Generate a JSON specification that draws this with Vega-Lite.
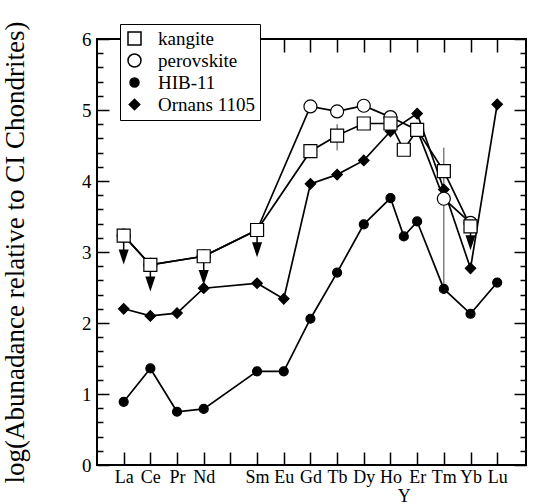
{
  "$schema": "https://vega.github.io/schema/vega-lite/v6.json",
  "width": 429,
  "height": 426,
  "autosize": {"type": "none"},
  "padding": {"left": 97, "top": 39, "right": 7, "bottom": 39},
  "background": "white",
  "config": {
    "view": {"stroke": "black", "strokeWidth": 2},
    "font": "Liberation Serif",
    "axis": {
      "labelFont": "Liberation Serif",
      "titleFont": "Liberation Serif",
      "labelColor": "black",
      "titleColor": "black",
      "ticks": false,
      "domain": false,
      "grid": false,
      "gridColor": "black",
      "gridOpacity": 1,
      "gridWidth": 1.5,
      "labelFlush": false,
      "labelOverlap": false
    },
    "legend": {
      "orient": "none",
      "legendX": 23,
      "legendY": -15,
      "fillColor": "white",
      "strokeColor": "black",
      "padding": 5,
      "labelFont": "Liberation Serif",
      "labelFontSize": 19,
      "labelColor": "black",
      "rowPadding": 2,
      "labelOffset": 14
    }
  },
  "datasets": {
    "ree": [
      {"series": "HIB-11", "el": "La", "order": 1, "v": 0.89},
      {"series": "HIB-11", "el": "Ce", "order": 2, "v": 1.36},
      {"series": "HIB-11", "el": "Pr", "order": 3, "v": 0.75},
      {"series": "HIB-11", "el": "Nd", "order": 4, "v": 0.79},
      {"series": "HIB-11", "el": "Sm", "order": 6, "v": 1.32},
      {"series": "HIB-11", "el": "Eu", "order": 7, "v": 1.32},
      {"series": "HIB-11", "el": "Gd", "order": 8, "v": 2.06},
      {"series": "HIB-11", "el": "Tb", "order": 9, "v": 2.71},
      {"series": "HIB-11", "el": "Dy", "order": 10, "v": 3.39},
      {"series": "HIB-11", "el": "Ho", "order": 11, "v": 3.76},
      {"series": "HIB-11", "el": "Y", "order": 11.5, "v": 3.22},
      {"series": "HIB-11", "el": "Er", "order": 12, "v": 3.43},
      {"series": "HIB-11", "el": "Tm", "order": 13, "v": 2.48},
      {"series": "HIB-11", "el": "Yb", "order": 14, "v": 2.13},
      {"series": "HIB-11", "el": "Lu", "order": 15, "v": 2.57},
      {"series": "Ornans 1105", "el": "La", "order": 1, "v": 2.20},
      {"series": "Ornans 1105", "el": "Ce", "order": 2, "v": 2.10},
      {"series": "Ornans 1105", "el": "Pr", "order": 3, "v": 2.14},
      {"series": "Ornans 1105", "el": "Nd", "order": 4, "v": 2.49},
      {"series": "Ornans 1105", "el": "Sm", "order": 6, "v": 2.56},
      {"series": "Ornans 1105", "el": "Eu", "order": 7, "v": 2.34},
      {"series": "Ornans 1105", "el": "Gd", "order": 8, "v": 3.96},
      {"series": "Ornans 1105", "el": "Tb", "order": 9, "v": 4.09},
      {"series": "Ornans 1105", "el": "Dy", "order": 10, "v": 4.29},
      {"series": "Ornans 1105", "el": "Ho", "order": 11, "v": 4.70},
      {"series": "Ornans 1105", "el": "Er", "order": 12, "v": 4.95},
      {"series": "Ornans 1105", "el": "Tm", "order": 13, "v": 3.88},
      {"series": "Ornans 1105", "el": "Yb", "order": 14, "v": 2.77},
      {"series": "Ornans 1105", "el": "Lu", "order": 15, "v": 5.08},
      {"series": "perovskite", "el": "La", "order": 1, "v": 3.23},
      {"series": "perovskite", "el": "Ce", "order": 2, "v": 2.82},
      {"series": "perovskite", "el": "Nd", "order": 4, "v": 2.94},
      {"series": "perovskite", "el": "Sm", "order": 6, "v": 3.31},
      {"series": "perovskite", "el": "Gd", "order": 8, "v": 5.05},
      {"series": "perovskite", "el": "Tb", "order": 9, "v": 4.98},
      {"series": "perovskite", "el": "Dy", "order": 10, "v": 5.06},
      {"series": "perovskite", "el": "Ho", "order": 11, "v": 4.90},
      {"series": "perovskite", "el": "Er", "order": 12, "v": 4.72},
      {"series": "perovskite", "el": "Tm", "order": 13, "v": 3.75},
      {"series": "perovskite", "el": "Yb", "order": 14, "v": 3.41},
      {"series": "kangite", "el": "La", "order": 1, "v": 3.23},
      {"series": "kangite", "el": "Ce", "order": 2, "v": 2.82},
      {"series": "kangite", "el": "Nd", "order": 4, "v": 2.94},
      {"series": "kangite", "el": "Sm", "order": 6, "v": 3.31},
      {"series": "kangite", "el": "Gd", "order": 8, "v": 4.42},
      {"series": "kangite", "el": "Tb", "order": 9, "v": 4.64},
      {"series": "kangite", "el": "Dy", "order": 10, "v": 4.81},
      {"series": "kangite", "el": "Ho", "order": 11, "v": 4.81},
      {"series": "kangite", "el": "Y", "order": 11.5, "v": 4.44},
      {"series": "kangite", "el": "Er", "order": 12, "v": 4.72},
      {"series": "kangite", "el": "Tm", "order": 13, "v": 4.14},
      {"series": "kangite", "el": "Yb", "order": 14, "v": 3.36}
    ],
    "limits": [
      {"el": "La", "order": 1, "v": 3.23, "arrow": 2.93},
      {"el": "Ce", "order": 2, "v": 2.82, "arrow": 2.55},
      {"el": "Nd", "order": 4, "v": 2.94, "arrow": 2.64},
      {"el": "Sm", "order": 6, "v": 3.31, "arrow": 3.03},
      {"el": "Yb", "order": 14, "v": 3.36, "arrow": 3.13}
    ],
    "errs": [
      {"el": "Tb", "order": 9, "lo": 4.43, "hi": 4.80},
      {"el": "Tm", "order": 13, "lo": 2.48, "hi": 4.47}
    ]
  },
  "layer": [
    {
      "data": {"name": "errs"},
      "mark": {"type": "rule", "color": "#444", "strokeWidth": 1},
      "encoding": {
        "x": {
          "field": "order", "type": "quantitative",
          "scale": {"domain": [0, 16.08], "nice": false, "zero": false},
          "axis": {"orient": "top", "values": [1,2,3,4,5,6,7,8,9,10,11,12,13,14,15], "labels": false, "title": null, "grid": true, "gridDash": [13, 400, 13]}
        },
        "y": {
          "field": "hi", "type": "quantitative",
          "scale": {"domain": [0, 6], "nice": false},
          "axis": {"orient": "right", "values": [0.2,0.4,0.6,0.8,1.2,1.4,1.6,1.8,2.2,2.4,2.6,2.8,3.2,3.4,3.6,3.8,4.2,4.4,4.6,4.8,5.2,5.4,5.6,5.8], "labels": false, "title": null, "grid": true, "gridDash": [6, 417, 6]}
        },
        "y2": {"field": "lo"}
      }
    },
    {
      "data": {"name": "ree"},
      "mark": {"type": "line", "color": "black", "strokeWidth": 1.7},
      "encoding": {
        "x": {
          "field": "order", "type": "quantitative",
          "axis": {
            "orient": "bottom",
            "values": [1,2,3,4,5,6,7,8,9,10,11,12,13,14,15],
            "labelExpr": "['','La','Ce','Pr','Nd','','Sm','Eu','Gd','Tb','Dy','Ho','Er','Tm','Yb','Lu'][datum.value]",
            "labelFontSize": 18,
            "labelPadding": 3,
            "labelBaseline": "top",
            "title": null
          }
        },
        "y": {
          "field": "v", "type": "quantitative",
          "axis": {
            "orient": "left",
            "values": [0,1,2,3,4,5,6],
            "format": "d",
            "labelFontSize": 19,
            "labelPadding": 6,
            "grid": true,
            "gridDash": [12, 405, 12],
            "title": "log(Abunadance relative to CI Chondrites)",
            "titleFontSize": 27,
            "titleFontWeight": "normal",
            "titlePadding": 52
          }
        },
        "detail": {"field": "series"},
        "order": {"field": "order"}
      }
    },
    {
      "data": {"name": "limits"},
      "mark": {"type": "rule", "color": "black", "strokeWidth": 1.5},
      "encoding": {
        "x": {"field": "order", "type": "quantitative", "axis": null},
        "y": {"field": "v", "type": "quantitative", "axis": null},
        "y2": {"field": "arrow"}
      }
    },
    {
      "data": {"name": "limits"},
      "mark": {"type": "point", "shape": "M-0.67,-1L0.67,-1L0,1Z", "filled": true, "color": "black", "size": 225, "opacity": 1},
      "encoding": {
        "x": {"field": "order", "type": "quantitative", "axis": null},
        "y": {"field": "arrow", "type": "quantitative", "axis": null}
      }
    },
    {
      "data": {"name": "ree"},
      "mark": {"type": "point", "filled": true, "strokeWidth": 1.2, "opacity": 1, "fillOpacity": 1, "strokeOpacity": 1},
      "encoding": {
        "x": {
          "field": "order", "type": "quantitative",
          "axis": {"orient": "bottom", "values": [11.5], "labelExpr": "'Y'", "labelFontSize": 18, "labelBaseline": "top", "labelPadding": 22, "title": null}
        },
        "y": {"field": "v", "type": "quantitative", "axis": null},
        "shape": {
          "field": "series", "type": "nominal",
          "scale": {"domain": ["kangite", "perovskite", "HIB-11", "Ornans 1105"], "range": ["square", "circle", "circle", "diamond"]},
          "legend": {"title": null}
        },
        "fill": {
          "field": "series", "type": "nominal",
          "scale": {"domain": ["kangite", "perovskite", "HIB-11", "Ornans 1105"], "range": ["white", "white", "black", "black"]},
          "legend": {"title": null}
        },
        "stroke": {
          "field": "series", "type": "nominal",
          "scale": {"domain": ["kangite", "perovskite", "HIB-11", "Ornans 1105"], "range": ["black", "black", "black", "black"]},
          "legend": {"title": null}
        },
        "size": {
          "field": "series", "type": "nominal",
          "scale": {"type": "ordinal", "domain": ["kangite", "perovskite", "HIB-11", "Ornans 1105"], "range": [169, 169, 81, 110]},
          "legend": {"title": null}
        }
      }
    }
  ],
  "resolve": {"axis": {"x": "independent", "y": "independent"}}
}
